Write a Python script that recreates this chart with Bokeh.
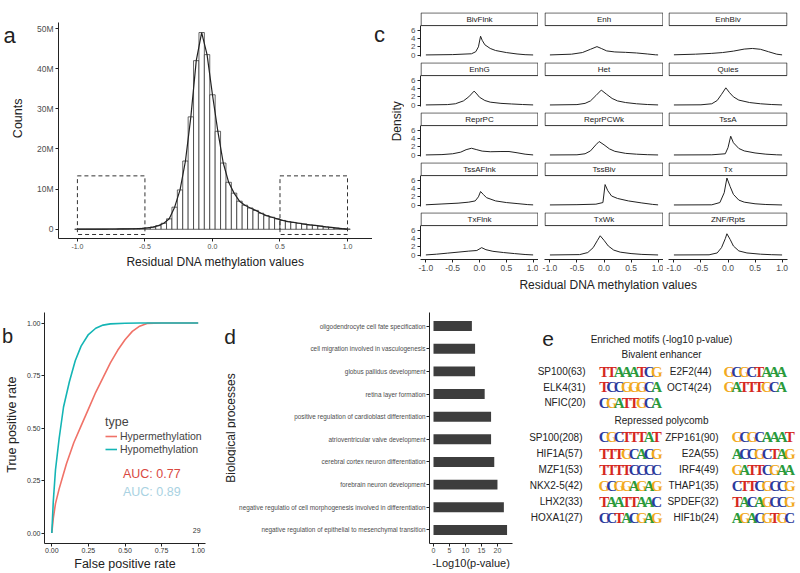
import numpy as np
from bokeh.plotting import figure
from bokeh.layouts import row, column
from bokeh.models import (Range1d, FixedTicker, Legend, LegendItem, Label,
                          ColumnDataSource, PrintfTickFormatter)
from bokeh.core.properties import value
from bokeh.embed import file_html
from bokeh.resources import INLINE

FONT = "Liberation Sans"
INK = "#222222"
GREY = "#4d4d4d"

# ---------------- (a) histogram ----------------
hist_centers = [-1.00, -0.96, -0.92, -0.88, -0.84, -0.80, -0.76, -0.72, -0.68, -0.64,
                -0.60, -0.56, -0.52, -0.48, -0.44, -0.40, -0.36, -0.32, -0.28, -0.24,
                -0.20, -0.16, -0.12, -0.08, -0.04, 0.00, 0.04, 0.08, 0.12, 0.16,
                0.20, 0.24, 0.28, 0.32, 0.36, 0.40, 0.44, 0.48, 0.52, 0.56,
                0.60, 0.64, 0.68, 0.72, 0.76, 0.80, 0.84, 0.88, 0.92, 0.96, 1.00]
hist_counts_m = [0.02, 0.02, 0.03, 0.03, 0.04, 0.05, 0.06, 0.07, 0.09, 0.11,
                 0.13, 0.17, 0.22, 0.35, 0.55, 0.9, 1.5, 2.6, 5.5, 9.8,
                 17.0, 28.0, 42.0, 49.0, 43.5, 33.5, 24.4, 16.5, 11.7, 9.0,
                 7.0, 6.0, 5.3, 4.7, 4.0, 3.4, 3.0, 2.6, 2.2, 1.9,
                 1.7, 1.5, 1.3, 1.1, 0.95, 0.8, 0.6, 0.45, 0.3, 0.15, 0.05]
hist_bin_width = 0.04
count_ticks = [0, 10, 20, 30, 40, 50]
count_tick_labels = ["0", "10M", "20M", "30M", "40M", "50M"]
box_left = [-1.0, 0.5]
box_right = [-0.5, 1.0]
box_bottom = -1.3
box_top = 13.3

# ---------------- (c) densities by chromatin state ----------------
facet_names = ["BivFlnk", "Enh", "EnhBiv", "EnhG", "Het", "Quies", "ReprPC", "ReprPCWk",
               "TssA", "TssAFlnk", "TssBiv", "Tx", "TxFlnk", "TxWk", "ZNF/Rpts"]
bivflnk_x = [-1.0, -0.5, -0.15, -0.07, -0.02, 0.02, 0.05, 0.1, 0.2, 0.3, 0.5, 0.7, 0.85, 1.0]
bivflnk_y = [0.02, 0.1, 0.3, 0.8, 2.0, 4.6, 3.6, 2.5, 1.6, 1.1, 0.6, 0.25, 0.08, 0.01]
enh_x = [-1.0, -0.6, -0.4, -0.25, -0.13, -0.05, 0.05, 0.2, 0.4, 0.6, 0.8, 0.95, 1.0]
enh_y = [0.02, 0.2, 0.6, 1.4, 2.05, 1.6, 1.0, 0.75, 0.65, 0.5, 0.25, 0.05, 0.02]
enhbiv_x = [-1.0, -0.6, -0.3, -0.1, 0.1, 0.3, 0.45, 0.6, 0.75, 0.9, 1.0]
enhbiv_y = [0.05, 0.2, 0.4, 0.6, 0.95, 1.45, 1.6, 1.4, 0.8, 0.2, 0.03]
enhg_x = [-1.0, -0.6, -0.45, -0.3, -0.2, -0.1, -0.05, 0.0, 0.1, 0.2, 0.4, 0.6, 0.8, 1.0]
enhg_y = [0.02, 0.1, 0.3, 1.0, 2.0, 3.4, 2.7, 1.9, 1.1, 0.7, 0.4, 0.25, 0.12, 0.02]
het_x = [-1.0, -0.5, -0.35, -0.25, -0.15, -0.05, 0.05, 0.15, 0.25, 0.4, 0.6, 0.8, 1.0]
het_y = [0.01, 0.1, 0.4, 1.0, 2.3, 3.65, 2.6, 1.6, 1.0, 0.6, 0.3, 0.12, 0.02]
quies_x = [-1.0, -0.5, -0.3, -0.2, -0.12, -0.04, 0.03, 0.1, 0.2, 0.4, 0.6, 0.8, 1.0]
quies_y = [0.01, 0.05, 0.3, 1.1, 2.6, 4.2, 3.0, 2.0, 1.2, 0.6, 0.3, 0.12, 0.02]
reprpc_x = [-1.0, -0.7, -0.5, -0.35, -0.25, -0.15, -0.05, 0.05, 0.2, 0.4, 0.55, 0.7, 0.85, 1.0]
reprpc_y = [0.02, 0.1, 0.3, 0.7, 1.3, 1.65, 1.3, 0.95, 0.8, 0.85, 0.85, 0.55, 0.2, 0.02]
reprpcwk_x = [-1.0, -0.5, -0.35, -0.25, -0.15, -0.09, 0.0, 0.1, 0.2, 0.4, 0.6, 0.8, 1.0]
reprpcwk_y = [0.01, 0.05, 0.3, 1.0, 2.5, 3.3, 2.5, 1.5, 0.9, 0.4, 0.2, 0.08, 0.01]
tssa_x = [-1.0, -0.3, -0.05, 0.0, 0.05, 0.1, 0.2, 0.3, 0.5, 0.7, 0.9, 1.0]
tssa_y = [0.01, 0.05, 0.3, 1.8, 4.6, 3.0, 1.6, 1.0, 0.5, 0.2, 0.05, 0.01]
tssaflnk_x = [-1.0, -0.7, -0.4, -0.2, -0.08, -0.02, 0.02, 0.07, 0.13, 0.3, 0.5, 0.7, 0.9, 1.0]
tssaflnk_y = [0.05, 0.25, 0.45, 0.7, 1.0, 2.0, 3.3, 2.6, 1.8, 1.0, 0.6, 0.35, 0.1, 0.03]
tssbiv_x = [-1.0, -0.5, -0.15, -0.02, 0.02, 0.07, 0.14, 0.25, 0.45, 0.7, 0.9, 1.0]
tssbiv_y = [0.02, 0.08, 0.2, 0.6, 5.0, 3.5, 2.2, 1.6, 1.0, 0.5, 0.15, 0.03]
tx_x = [-1.0, -0.3, -0.15, -0.07, -0.02, 0.04, 0.1, 0.2, 0.3, 0.5, 0.7, 1.0]
tx_y = [0.01, 0.05, 0.6, 3.0, 6.6, 4.5, 2.6, 1.2, 0.7, 0.3, 0.12, 0.01]
txflnk_x = [-1.0, -0.8, -0.6, -0.4, -0.2, -0.05, 0.04, 0.12, 0.25, 0.45, 0.65, 0.85, 1.0]
txflnk_y = [0.02, 0.2, 0.45, 0.7, 0.95, 1.1, 1.8, 1.3, 0.9, 0.6, 0.35, 0.12, 0.02]
txwk_x = [-1.0, -0.45, -0.3, -0.2, -0.12, -0.07, 0.0, 0.08, 0.18, 0.3, 0.5, 0.7, 1.0]
txwk_y = [0.01, 0.1, 0.6, 1.8, 3.6, 4.7, 3.6, 2.2, 1.2, 0.7, 0.35, 0.15, 0.01]
znf_x = [-1.0, -0.35, -0.2, -0.12, -0.05, -0.02, 0.04, 0.1, 0.2, 0.35, 0.6, 0.8, 1.0]
znf_y = [0.01, 0.05, 0.5, 1.8, 4.0, 5.2, 3.8, 2.2, 1.0, 0.5, 0.2, 0.08, 0.01]
facet_x = [bivflnk_x, enh_x, enhbiv_x, enhg_x, het_x, quies_x, reprpc_x, reprpcwk_x,
           tssa_x, tssaflnk_x, tssbiv_x, tx_x, txflnk_x, txwk_x, znf_x]
facet_y = [bivflnk_y, enh_y, enhbiv_y, enhg_y, het_y, quies_y, reprpc_y, reprpcwk_y,
           tssa_y, tssaflnk_y, tssbiv_y, tx_y, txflnk_y, txwk_y, znf_y]
density_ticks = [0, 2, 4, 6]
resid_ticks = [-1.0, -0.5, 0.0, 0.5, 1.0]

# ---------------- (b) ROC ----------------
hyper_fpr = [0, 0.01, 0.025, 0.05, 0.075, 0.1, 0.15, 0.2, 0.25, 0.3, 0.35, 0.4, 0.45, 0.5,
             0.55, 0.6, 0.65, 0.75, 1.0]
hyper_tpr = [0, 0.07, 0.14, 0.21, 0.27, 0.33, 0.43, 0.51, 0.59, 0.67, 0.74, 0.81, 0.87, 0.92,
             0.96, 0.985, 0.998, 1.0, 1.0]
hypo_fpr = [0, 0.01, 0.025, 0.05, 0.08, 0.12, 0.16, 0.2, 0.25, 0.3, 0.35, 0.4, 0.5, 0.6, 0.75, 1.0]
hypo_tpr = [0, 0.15, 0.3, 0.45, 0.6, 0.72, 0.82, 0.89, 0.945, 0.975, 0.99, 0.996, 0.999, 1.0, 1.0, 1.0]
roc_ticks = [0, 0.25, 0.5, 0.75, 1.0]
auc_hyper = "AUC: 0.77"
auc_hypo = "AUC: 0.89"

# ---------------- (d) GO terms ----------------
go_terms = ["oligodendrocyte cell fate specification",
            "cell migration involved in vasculogenesis",
            "globus pallidus development",
            "retina layer formation",
            "positive regulation of cardioblast differentiation",
            "atrioventricular valve development",
            "cerebral cortex neuron differentiation",
            "forebrain neuron development",
            "negative regulatio of cell morphogenesis involved in differentiation",
            "negative regulation of epithelial to mesenchymal transition"]
go_values = [12, 13, 13, 16, 18, 18, 19, 20, 22, 23]
go_ticks = [0, 5, 10, 15, 20]

# ---------------- (e) motifs ----------------
biv_names = ["SP100(63)", "E2F2(44)", "ELK4(31)", "OCT4(24)", "NFIC(20)"]
biv_motifs = ["TTAAATCG", "GCGCTAAA", "TCCGGGCA", "GATTTGCA", "CGATTGCA"]
rep_names = ["SP100(208)", "ZFP161(90)", "HIF1A(57)", "E2A(55)", "MZF1(53)", "IRF4(49)",
             "NKX2-5(42)", "THAP1(35)", "LHX2(33)", "SPDEF(32)", "HOXA1(27)", "HIF1b(24)"]
rep_motifs = ["CGCTTTAT", "GCGCAAAT", "TTTGCACG", "ACCGCTAG", "TTTTCCCC", "GATTCGAA",
              "GCGGAGAG", "CTTCGCCG", "TAATTAAC", "TACAGCCG", "CCTACGAG", "AGACGTGC"]
base_colors = {"A": "#2a9a3c", "C": "#2c3a9c", "G": "#f2aa1f", "T": "#d5281f"}


# ---------------- helpers ----------------
def base_fig(**kw):
    p = figure(output_backend="svg", toolbar_location=None, title=None, **kw)
    p.outline_line_color = None
    p.grid.visible = False
    p.background_fill_color = "white"
    p.border_fill_color = "white"
    return p


def text_fig(w, h):
    return base_fig(width=w, height=h, x_range=Range1d(0, w), y_range=Range1d(0, h),
                    min_border=0, x_axis_location=None, y_axis_location=None)


def put(p, h, x, y, s, size, angle=0.0, align="center", color=INK):
    p.text(x=[x], y=[h - y], text=[s], angle=angle, text_font=value(FONT),
           text_font_size=size, text_align=align, text_baseline="middle", text_color=color)


def style_axes(p, tick_font="8px", label_font="12px", tick_color=GREY):
    for ax in p.axis:
        ax.axis_line_color = INK
        ax.major_tick_line_color = INK
        ax.major_tick_in = 0
        ax.major_tick_out = 3
        ax.minor_tick_line_color = None
        ax.major_label_text_font = FONT
        ax.major_label_text_font_size = tick_font
        ax.major_label_text_color = tick_color
        ax.major_label_standoff = 2
        ax.axis_label_text_font = FONT
        ax.axis_label_text_font_size = label_font
        ax.axis_label_text_font_style = "normal"
        ax.axis_label_text_color = INK
        ax.axis_label_standoff = 3


TOP_H = 293
BOT_H = 280

# ---------------- panel a ----------------
na = text_fig(28, TOP_H)
put(na, TOP_H, 9, 18, "a", "22px")
put(na, TOP_H, 17, 130, "Counts", "12.5px", angle=np.pi / 2)

pa = base_fig(width=344, height=TOP_H, x_range=Range1d(-1.14, 1.185), y_range=Range1d(-2.3, 51.5),
              min_border_left=30, min_border_right=0, min_border_top=22, min_border_bottom=55)
hc = np.array(hist_centers)
hv = np.array(hist_counts_m)
pa.quad(left=hc - hist_bin_width / 2, right=hc + hist_bin_width / 2, bottom=0, top=hv,
        fill_color="white", line_color=INK, line_width=0.7)
pa.line(hc, hv, line_color=INK, line_width=1.2)
pa.quad(left=box_left, right=box_right, bottom=box_bottom, top=box_top, fill_color=None,
        line_color="#333333", line_dash="4 3", line_width=1)
style_axes(pa, tick_font="8.5px", label_font="12px")
pa.xaxis.ticker = FixedTicker(ticks=resid_ticks)
pa.xaxis.formatter = PrintfTickFormatter(format="%.1f")
pa.xaxis.major_label_text_font_size = "7px"
pa.yaxis.ticker = FixedTicker(ticks=count_ticks)
pa.yaxis.major_label_overrides = dict(zip(count_ticks, count_tick_labels))
pa.xaxis.axis_label = "Residual DNA methylation values"

# ---------------- panel c ----------------
nc = text_fig(32, TOP_H)
put(nc, TOP_H, 7, 16, "c", "22px")
put(nc, TOP_H, 24, 134, "Density", "12px", angle=np.pi / 2)

XC, YC = (-1.1, 1.1), (-1.1, 10.4)
FRAME_H = 47
widths = [134, 125, 137]
lefts = [16, 6, 5]
rights = [0, 0, 13]
facet_figs = []
row_heights = []
for i, name in enumerate(facet_names):
    r, c = divmod(i, 3)
    top = 12 if r == 0 else 3
    bottom = 16 if r == 4 else 0
    p = base_fig(width=widths[c], height=top + FRAME_H + bottom,
                 x_range=Range1d(*XC), y_range=Range1d(*YC),
                 min_border_left=lefts[c], min_border_right=rights[c],
                 min_border_top=top, min_border_bottom=bottom,
                 x_axis_location="below" if r == 4 else None,
                 y_axis_location="left" if c == 0 else None)
    p.quad(left=-1.09, right=1.09, bottom=7.2, top=10.3, fill_color="white",
           line_color="#333333", line_width=1)
    p.text(x=[0], y=[8.75], text=[name], text_font=value(FONT), text_font_size="8px",
           text_align="center", text_baseline="middle", text_color="#1a1a1a")
    p.line(facet_x[i], facet_y[i], line_color=INK, line_width=1)
    style_axes(p, tick_font="8px", label_font="12px")
    if c == 0:
        p.yaxis.ticker = FixedTicker(ticks=density_ticks)
        p.yaxis.bounds = (-0.34, 7.2)
        row_heights.append(top + FRAME_H + bottom)
    if r == 4:
        p.xaxis.ticker = FixedTicker(ticks=resid_ticks)
        p.xaxis.formatter = PrintfTickFormatter(format="%.1f")
        p.xaxis.major_label_text_font_size = "8.5px"
    facet_figs.append(p)

xl_h = TOP_H - sum(row_heights)
xl = text_fig(sum(widths), xl_h)
put(xl, xl_h, 204, xl_h / 2, "Residual DNA methylation values", "12px")

# ---------------- panel b ----------------
nb = text_fig(23, BOT_H)
put(nb, BOT_H, 7, 29, "b", "20px")
put(nb, BOT_H, 11.5, 136, "True positive rate", "12.5px", angle=np.pi / 2)

pb = base_fig(width=189, height=BOT_H, x_range=Range1d(-0.05, 1.05), y_range=Range1d(-0.05, 1.05),
              min_border_left=19, min_border_right=7, min_border_top=14, min_border_bottom=25)
r_hyper = pb.line(hyper_fpr, hyper_tpr, line_color="#F07268", line_width=1.6)
r_hypo = pb.line(hypo_fpr, hypo_tpr, line_color="#14B5B5", line_width=1.6)
style_axes(pb, tick_font="7px", label_font="12.5px", tick_color="#333333")
for ax in pb.axis:
    ax.ticker = FixedTicker(ticks=roc_ticks)
    ax.formatter = PrintfTickFormatter(format="%.2f")
    ax.major_label_standoff = 1
    ax.axis_label_standoff = 1
pb.xaxis.axis_label = "False positive rate"
legend = Legend(items=[LegendItem(label="Hypermethylation", renderers=[r_hyper]),
                       LegendItem(label="Hypomethylation", renderers=[r_hypo])],
                title="type", location=(61, 88), background_fill_alpha=0,
                border_line_color=None, label_text_font=FONT, label_text_font_size="10.5px",
                title_text_font=FONT, title_text_font_size="12.5px",
                title_text_font_style="normal", glyph_width=12, glyph_height=12,
                label_height=12, spacing=1, padding=0, margin=0, label_standoff=3,
                title_standoff=1)
pb.add_layout(legend)
pb.add_layout(Label(x=0.486, y=0.28, text=auc_hyper, text_font=FONT, text_font_size="12.5px",
                    text_color="#D9483F", text_baseline="middle"))
pb.add_layout(Label(x=0.486, y=0.193, text=auc_hypo, text_font=FONT, text_font_size="12.5px",
                    text_color="#A9D2E2", text_baseline="middle"))
pb.add_layout(Label(x=0.99, y=0.012, text="29", text_font=FONT, text_font_size="7px",
                    text_color="#333333", text_baseline="middle", text_align="center"))

# ---------------- panel d ----------------
nd = text_fig(24, BOT_H)
put(nd, BOT_H, 17.5, 29, "d", "21px")
put(nd, BOT_H, 18, 140, "Biological processes", "12px", angle=np.pi / 2)

pdg = base_fig(width=286, height=BOT_H, x_range=Range1d(-1.25, 24.7), y_range=Range1d(0.4, 10.6),
               min_border_left=193, min_border_right=10, min_border_top=19, min_border_bottom=24)
go_pos = list(range(len(go_terms), 0, -1))
pdg.hbar(y=go_pos, left=0, right=go_values, height=0.44, fill_color="#3d3d3d", line_color=None)
style_axes(pdg, tick_font="6.4px", label_font="11px")
pdg.yaxis.ticker = FixedTicker(ticks=go_pos)
pdg.yaxis.major_label_overrides = dict(zip(go_pos, go_terms))
pdg.xaxis.ticker = FixedTicker(ticks=go_ticks)
pdg.xaxis.major_label_text_font_size = "7px"
pdg.xaxis.axis_label = "-Log10(p-value)"
for ax in pdg.axis:
    ax.major_label_standoff = 1
    ax.axis_label_standoff = 1

# ---------------- panel e ----------------
EW = 278
pe = text_fig(EW, BOT_H)
put(pe, BOT_H, 25.5, 32, "e", "21px")
put(pe, BOT_H, 139, 33, "Enriched motifs (-log10 p-value)", "10px")
put(pe, BOT_H, 139, 51, "Bivalent enhancer", "10px")
put(pe, BOT_H, 139, 131, "Repressed polycomb", "10px")

name_x, name_y, name_t = [], [], []
lx, ly, lt, lc = [], [], [], []


def place(names, motifs, y0, dy, name_right, logo_left):
    for k, (nm, mo) in enumerate(zip(names, motifs)):
        col, rr = k % 2, k // 2
        y = y0 + rr * dy
        name_x.append(name_right[col]); name_y.append(BOT_H - y); name_t.append(nm)
        for j, ch in enumerate(mo):
            lx.append(logo_left[col] + 3.75 + 7.5 * j)
            ly.append(BOT_H - y - 0.5)
            lt.append(ch)
            lc.append(base_colors[ch])


place(biv_names, biv_motifs, 72, 18.4, (63, 189), (78, 203))
place(rep_names, rep_motifs, 151, 19.5, (60, 196), (78, 211))
pe.text(x=name_x, y=name_y, text=name_t, text_font=value(FONT), text_font_size="10px",
        text_align="right", text_baseline="middle", text_color=INK)
src = ColumnDataSource(dict(x=lx, y=ly, t=lt, c=lc))
pe.text(x="x", y="y", text="t", text_color="c", source=src,
        text_font=value("Liberation Sans Narrow"), text_font_size="15px",
        text_font_style="bold", text_align="center", text_baseline="middle")

# ---------------- layout ----------------
col_c = column(*[row(*facet_figs[r * 3:(r + 1) * 3]) for r in range(5)], xl)
layout = column(row(na, pa, nc, col_c), row(nb, pb, nd, pdg, pe))
open("out.html", "w").write(file_html(layout, INLINE, title="figure"))
